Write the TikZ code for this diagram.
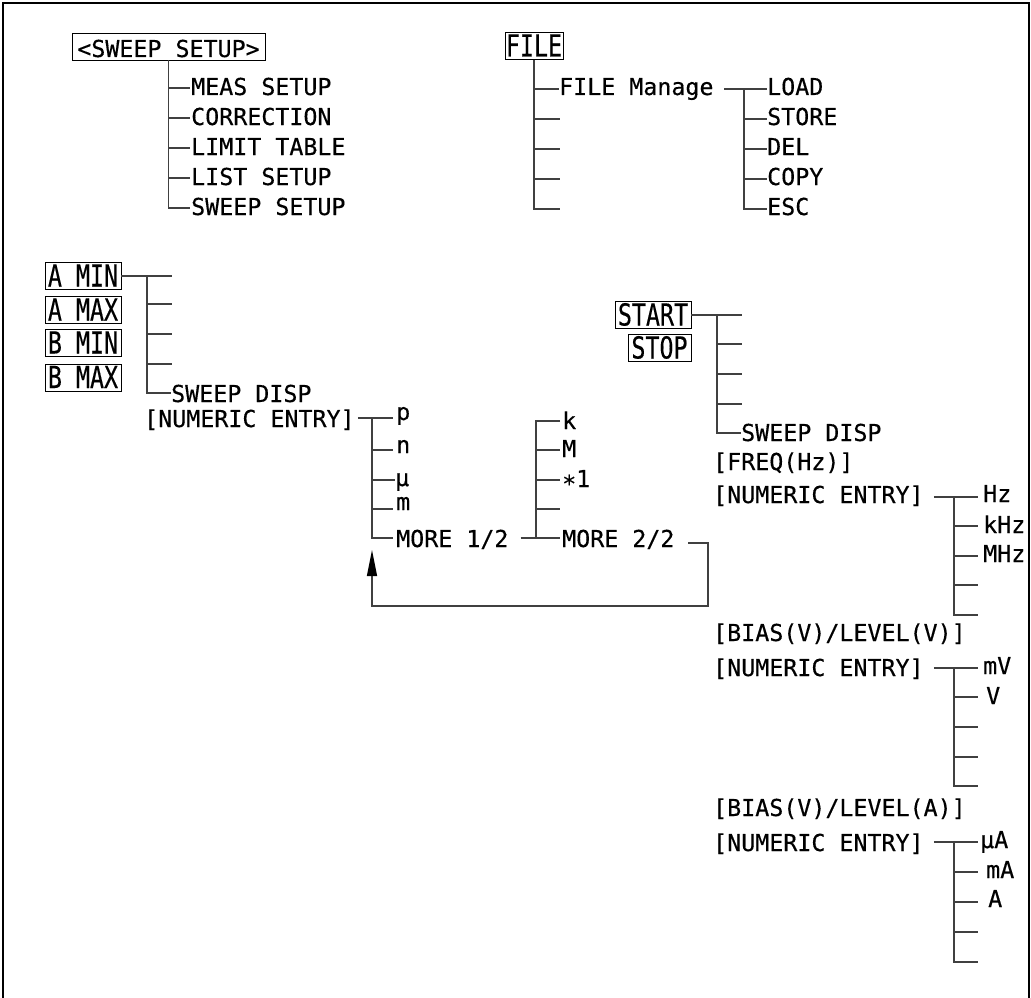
\documentclass[tikz,border=0pt]{standalone}
\usepackage{fontspec}
\usepackage{graphicx}
\newfontfamily\mono[FakeBold=0.4]{DejaVu Sans Mono}
\usetikzlibrary{arrows.meta}
\newcommand{\tall}[1]{\scalebox{1}[1.3]{#1}}
\begin{document}
\begin{tikzpicture}[x=1pt,y=-1pt,
  conn/.style={draw=black!75, line width=1.3pt},
  lab/.style={font=\mono\fontsize{23.3}{26}\selectfont, inner sep=0pt, anchor=west, text depth=0pt, text height=#1},
  lab/.default=16pt,
  gap/.style={inner xsep=#1},
  txt/.style={font=\mono\fontsize{23.3}{26}\selectfont, inner sep=0pt, anchor=base west},
  box/.style={draw, line width=0.9pt, font=\mono\fontsize{23.3}{26}\selectfont, inner xsep=0pt, inner ysep=2pt, text height=22pt, text depth=1pt, minimum width=#1, minimum height=27pt},
  frame/.style={draw=black, line width=2.6pt}
]
\useasboundingbox (0,0) rectangle (1031,998);
\coordinate (fr1) at (3,998);
\coordinate (fr2) at (3,3);
\coordinate (fr3) at (1029,3);
\coordinate (fr4) at (1029,998);
\draw[frame] (fr1) -- (fr2) -- (fr3) -- (fr4);

% ---------- SWEEP SETUP ----------
\node[box=193pt] (swb) at (168.5,46.5) {<SWEEP SETUP>};
\node[lab=14pt, gap=1pt] (s1) at (190,88) {MEAS SETUP};
\node[lab=14pt, gap=1pt] (s2) at (190,118) {CORRECTION};
\node[lab=14pt, gap=1pt] (s3) at (190,148) {LIMIT TABLE};
\node[lab=14pt, gap=1pt] (s4) at (190,178) {LIST SETUP};
\node[lab=14pt, gap=1pt] (s5) at (190,208) {SWEEP SETUP};
\draw[conn] (swb.south) |- (s5.west);
\foreach \n in {s1,s2,s3,s4} \draw[conn] (swb.south |- \n.west) -- (\n.west);

% ---------- FILE ----------
\node[box=58pt] (fb) at (534,46) {\tall{FILE}};
\node[lab=12pt] (f1) at (559,89) {FILE Manage};
\coordinate (f2) at (560,119);
\coordinate (f3) at (560,149);
\coordinate (f4) at (560,179);
\coordinate (f5) at (560,209);
\draw[conn] (fb.south) |- (f5);
\draw[conn] (fb.south |- f1.west) -- (f1.west);
\foreach \n in {f2,f3,f4} \draw[conn] (fb.south |- \n) -- (\n);

\node[lab=12pt] (l1) at (767,89) {LOAD};
\node[lab=12pt] (l2) at (767,119) {STORE};
\node[lab=12pt] (l3) at (767,149) {DEL};
\node[lab=12pt] (l4) at (767,179) {COPY};
\node[lab=12pt] (l5) at (767,209) {ESC};
\coordinate (fmo) at (724,89);
\coordinate (ft) at (744,89);
\draw[conn] (fmo) -- (l1.west);
\draw[conn] (ft) |- (l5.west);
\foreach \n in {l2,l3,l4} \draw[conn] (ft |- \n.west) -- (\n.west);

% ---------- A/B MIN MAX ----------
\node[box=76pt] (amin) at (83,276) {\tall{A MIN}};
\node[box=76pt] (amax) at (83,310) {\tall{A MAX}};
\node[box=76pt] (bmin) at (83,343) {\tall{B MIN}};
\node[box=76pt] (bmax) at (83,377.5) {\tall{B MAX}};
\coordinate (a1) at (172,276);
\coordinate (a2) at (172,304);
\coordinate (a3) at (172,334);
\coordinate (a4) at (172,364);
\node[lab=18pt] (a5) at (171,393) {SWEEP DISP};
\coordinate (at) at (147,276);
\draw[conn] (amin.east) -- (a1);
\draw[conn] (at) |- (a5.west);
\foreach \n in {a2,a3,a4} \draw[conn] (at |- \n) -- (\n);

\node[lab=18pt] (ne1) at (144,418) {[NUMERIC ENTRY]};
\node[lab=4pt, gap=3pt] (p) at (393,418) {p};
\node[lab=6pt, gap=3pt] (n) at (393,450) {n};
\node[lab=12pt] (mu) at (395,480) {μ};
\node[lab=2pt, gap=3pt] (mm) at (393,509) {m};
\node[lab=18pt, gap=3pt] (m12) at (393,538) {MORE 1/2};
\coordinate (pt) at (372,418);
\draw[conn] ([xshift=3pt]ne1.east) -- (p.west);
\draw[conn] (pt) |- (m12.west);
\foreach \n in {n,mu,mm} \draw[conn] (pt |- \n.west) -- (\n.west);

\node[lab=16pt, gap=2pt] (k) at (560,421) {k};
\node[lab=14pt, gap=2pt] (M) at (560,450) {M};
\node[lab=14pt, gap=2pt] (one) at (560,480) {\raisebox{-5pt}{*}1};
\coordinate (k4) at (560,509);
\node[lab=18pt, gap=2pt] (m22) at (560,538) {MORE 2/2};
\coordinate (kt) at (536,421);
\draw[conn] ([xshift=9pt]m12.east) -- (m22.west);
\draw[conn] (k.west) -| (kt |- m22.west);
\foreach \n in {M,one} \draw[conn] (kt |- \n.west) -- (\n.west);
\draw[conn] (kt |- k4) -- (k4);

\coordinate (lp1) at (688,543);
\coordinate (lpc) at (708,606);
\coordinate (lptip) at (372,550);
\draw[conn, -{Triangle[length=26pt,width=10pt,color=black]}] (lp1) -| (lpc) -| (lptip);

% ---------- START / STOP ----------
\node[box=76pt] (start) at (653,315) {\tall{START}};
\node[box=63pt] (stop) at (659.5,348) {\tall{STOP}};
\coordinate (b1) at (742,315);
\coordinate (b2) at (742,344);
\coordinate (b3) at (742,374);
\coordinate (b4) at (742,404);
\node[lab=16pt] (b5) at (741,433) {SWEEP DISP};
\coordinate (bt) at (717,315);
\draw[conn] (start.east) -- (b1);
\draw[conn] (bt) |- (b5.west);
\foreach \n in {b2,b3,b4} \draw[conn] (bt |- \n) -- (\n);

\node[txt] (fq) at (713,470) {[FREQ(Hz)]};
\node[lab=12pt] (ne2) at (713,497) {[NUMERIC ENTRY]};
\node[lab=10pt, gap=5pt] (hz) at (978,497) {Hz};
\node[lab=14pt, gap=5pt] (khz) at (978,526) {kHz};
\node[lab=12pt, gap=5pt] (mhz) at (978,556) {MHz};
\coordinate (h4) at (978,585);
\coordinate (h5) at (978,615);
\coordinate (ht) at (954,497);
\draw[conn] ([xshift=10pt]ne2.east) -- (hz.west);
\draw[conn] (ht) |- (h5);
\foreach \n in {khz,mhz} \draw[conn] (ht |- \n.west) -- (\n.west);
\draw[conn] (ht |- h4) -- (h4);

\node[txt] (bv) at (713,641) {[BIAS(V)/LEVEL(V)]};
\node[lab=16pt] (ne3) at (713,668) {[NUMERIC ENTRY]};
\node[lab=12pt, gap=5pt] (mv) at (978,668) {mV};
\node[lab=14pt, gap=8pt] (v) at (978,697) {V};
\coordinate (v3) at (978,727);
\coordinate (v4) at (978,757);
\coordinate (v5) at (978,786);
\coordinate (vt) at (954,668);
\draw[conn] ([xshift=10pt]ne3.east) -- (mv.west);
\draw[conn] (vt) |- (v5);
\draw[conn] (vt |- v.west) -- (v.west);
\foreach \n in {v3,v4} \draw[conn] (vt |- \n) -- (\n);

\node[txt] (ba) at (713,816) {[BIAS(V)/LEVEL(A)]};
\node[lab=18pt] (ne4) at (713,842) {[NUMERIC ENTRY]};
\node[lab=12pt, gap=2pt] (ua) at (978,842) {μA};
\node[lab=12pt, gap=8pt] (ma) at (978,872) {mA};
\node[lab=10pt, gap=10pt] (aa) at (978,902) {A};
\coordinate (u4) at (978,932);
\coordinate (u5) at (978,962);
\coordinate (ut) at (954,842);
\draw[conn] ([xshift=10pt]ne4.east) -- (ua.west);
\draw[conn] (ut) |- (u5);
\foreach \n in {ma,aa} \draw[conn] (ut |- \n.west) -- (\n.west);
\draw[conn] (ut |- u4) -- (u4);
\end{tikzpicture}
\end{document}
